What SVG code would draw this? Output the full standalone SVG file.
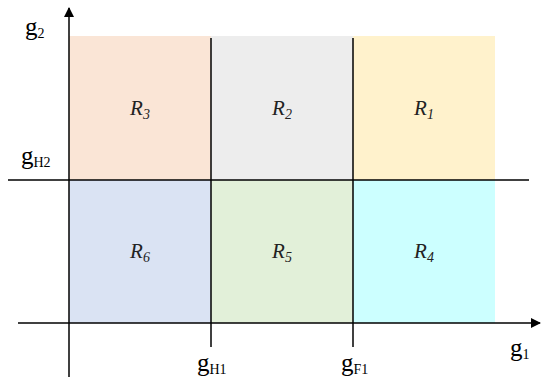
<svg xmlns="http://www.w3.org/2000/svg" width="545" height="381" viewBox="0 0 545 381">
<style>
.ax{stroke:#000;stroke-width:1.5;fill:none}
.lbl{font-family:"Liberation Serif",serif;font-style:italic;font-size:21px;fill:#222;text-anchor:middle}
.g{font-family:"Liberation Serif",serif;font-size:25px;fill:#000}
.sub{font-size:14px}
.rs{font-size:14px}
</style>
<defs>
<marker id="arr" markerWidth="10" markerHeight="10" refX="9" refY="5" orient="auto" markerUnits="userSpaceOnUse">
<path d="M0,0 L10,5 L0,10 Z" fill="#000"/>
</marker>
</defs>
<g id="R3"><rect x="69" y="36" width="142" height="144" fill="#FAE5D6"/><text class="lbl" x="140" y="115">R<tspan class="rs" dy="4">3</tspan></text></g>
<g id="R2"><rect x="211" y="36" width="142" height="144" fill="#EDEDED"/><text class="lbl" x="282" y="115">R<tspan class="rs" dy="4">2</tspan></text></g>
<g id="R1"><rect x="353" y="36" width="142" height="144" fill="#FFF2CC"/><text class="lbl" x="424" y="115">R<tspan class="rs" dy="4">1</tspan></text></g>
<g id="R6"><rect x="69" y="180" width="142" height="143" fill="#DAE3F3"/><text class="lbl" x="140" y="258">R<tspan class="rs" dy="4">6</tspan></text></g>
<g id="R5"><rect x="211" y="180" width="142" height="143" fill="#E2F0D9"/><text class="lbl" x="282" y="258">R<tspan class="rs" dy="4">5</tspan></text></g>
<g id="R4"><rect x="353" y="180" width="142" height="143" fill="#CCFFFF"/><text class="lbl" x="424" y="258">R<tspan class="rs" dy="4">4</tspan></text></g>
<g id="connectors">
<line class="ax" x1="69" y1="377" x2="69" y2="8" marker-end="url(#arr)"/>
<line class="ax" x1="18" y1="323" x2="540" y2="323" marker-end="url(#arr)"/>
<line class="ax" x1="8" y1="180" x2="529" y2="180"/>
<line class="ax" x1="211" y1="38" x2="211" y2="347"/>
<line class="ax" x1="353" y1="38" x2="353" y2="347"/>
</g>
<g id="labels">
<text class="g" x="25" y="35">g<tspan class="sub" dy="3">2</tspan></text>
<text class="g" x="21" y="164">g<tspan class="sub" dy="3">H2</tspan></text>
<text class="g" x="197" y="371">g<tspan class="sub" dy="3">H1</tspan></text>
<text class="g" x="341" y="371">g<tspan class="sub" dy="3">F1</tspan></text>
<text class="g" x="510" y="356">g<tspan class="sub" dy="3">1</tspan></text>
</g>
</svg>
